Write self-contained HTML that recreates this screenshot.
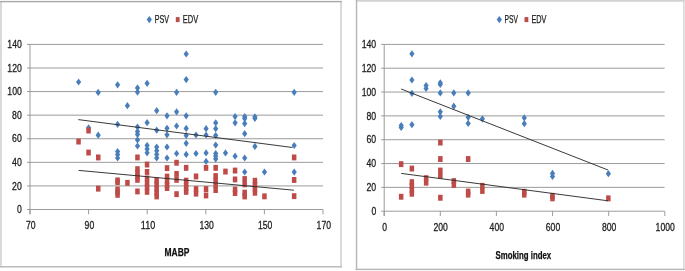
<!DOCTYPE html><html><head><meta charset="utf-8"><title>chart</title><style>html,body{margin:0;padding:0;background:#fff}svg text{font-family:"Liberation Sans",sans-serif}</style></head><body><svg width="685" height="271" viewBox="0 0 685 271" style="display:block;filter:blur(0.3px)">
<rect x="0" y="0" width="685" height="271" fill="#fff"/>
<g>
<rect x="0" y="1" width="1.9" height="266.5" fill="#d8d8d8"/>
<rect x="340.1" y="1" width="1.8" height="266.5" fill="#d6d6d6"/>
<rect x="0" y="0.9" width="341.9" height="1.4" fill="#a8a8a8"/>
<rect x="0" y="266.0" width="341.9" height="1.5" fill="#bcbcbc"/>
<rect x="683.1" y="0" width="1.5" height="270.1" fill="#d6d6d6"/>
<rect x="355.8" y="0" width="328.8" height="1.7" fill="#d2d2d2"/>
<rect x="355.8" y="0" width="1.5" height="270.1" fill="#b8b8b8"/>
<rect x="355.8" y="268.7" width="328.8" height="1.4" fill="#b4b4b4"/>
</g>
<g stroke="#969696" stroke-width="0.95" fill="none">
<line x1="27.0" y1="44.40" x2="323.0" y2="44.40"/>
<line x1="27.0" y1="67.99" x2="323.0" y2="67.99"/>
<line x1="27.0" y1="91.57" x2="323.0" y2="91.57"/>
<line x1="27.0" y1="115.16" x2="323.0" y2="115.16"/>
<line x1="27.0" y1="138.74" x2="323.0" y2="138.74"/>
<line x1="27.0" y1="162.33" x2="323.0" y2="162.33"/>
<line x1="27.0" y1="185.91" x2="323.0" y2="185.91"/>
<line x1="27.0" y1="209.50" x2="323.0" y2="209.50"/>
<line x1="30.0" y1="44.40" x2="30.0" y2="214.30"/>
<line x1="30.0" y1="209.50" x2="30.0" y2="214.30"/>
<line x1="88.6" y1="209.50" x2="88.6" y2="214.30"/>
<line x1="147.2" y1="209.50" x2="147.2" y2="214.30"/>
<line x1="205.8" y1="209.50" x2="205.8" y2="214.30"/>
<line x1="264.4" y1="209.50" x2="264.4" y2="214.30"/>
<line x1="323.0" y1="209.50" x2="323.0" y2="214.30"/>
</g>
<g fill="#1c1c1c" stroke="#1c1c1c" stroke-width="0.3">
<text x="21.8" y="48.0" font-size="11" font-weight="normal" text-anchor="end" textLength="14.5" lengthAdjust="spacingAndGlyphs">140</text>
<text x="21.8" y="71.6" font-size="11" font-weight="normal" text-anchor="end" textLength="14.5" lengthAdjust="spacingAndGlyphs">120</text>
<text x="21.8" y="95.2" font-size="11" font-weight="normal" text-anchor="end" textLength="14.5" lengthAdjust="spacingAndGlyphs">100</text>
<text x="21.8" y="118.8" font-size="11" font-weight="normal" text-anchor="end" textLength="9.7" lengthAdjust="spacingAndGlyphs">80</text>
<text x="21.8" y="142.3" font-size="11" font-weight="normal" text-anchor="end" textLength="9.7" lengthAdjust="spacingAndGlyphs">60</text>
<text x="21.8" y="165.9" font-size="11" font-weight="normal" text-anchor="end" textLength="9.7" lengthAdjust="spacingAndGlyphs">40</text>
<text x="21.8" y="189.5" font-size="11" font-weight="normal" text-anchor="end" textLength="9.7" lengthAdjust="spacingAndGlyphs">20</text>
<text x="21.8" y="213.1" font-size="11" font-weight="normal" text-anchor="end" textLength="4.8" lengthAdjust="spacingAndGlyphs">0</text>
<text x="30.8" y="229.3" font-size="11" font-weight="normal" text-anchor="middle" textLength="9.6" lengthAdjust="spacingAndGlyphs">70</text>
<text x="89.4" y="229.3" font-size="11" font-weight="normal" text-anchor="middle" textLength="9.6" lengthAdjust="spacingAndGlyphs">90</text>
<text x="148.0" y="229.3" font-size="11" font-weight="normal" text-anchor="middle" textLength="14.4" lengthAdjust="spacingAndGlyphs">110</text>
<text x="206.6" y="229.3" font-size="11" font-weight="normal" text-anchor="middle" textLength="14.4" lengthAdjust="spacingAndGlyphs">130</text>
<text x="265.2" y="229.3" font-size="11" font-weight="normal" text-anchor="middle" textLength="14.4" lengthAdjust="spacingAndGlyphs">150</text>
<text x="323.8" y="229.3" font-size="11" font-weight="normal" text-anchor="middle" textLength="14.4" lengthAdjust="spacingAndGlyphs">170</text>
</g>
<g fill="#4a7ebb">
<path d="M78.6 78.4L81.2 82.0L78.6 85.6L76.0 82.0Z"/>
<path d="M88.6 124.2L91.2 127.8L88.6 131.4L86.0 127.8Z"/>
<path d="M98.2 88.8L100.8 92.4L98.2 96.0L95.6 92.4Z"/>
<path d="M98.2 131.6L100.8 135.2L98.2 138.8L95.6 135.2Z"/>
<path d="M117.6 81.2L120.2 84.8L117.6 88.4L115.0 84.8Z"/>
<path d="M117.6 120.7L120.2 124.3L117.6 127.9L115.0 124.3Z"/>
<path d="M117.6 148.0L120.2 151.6L117.6 155.2L115.0 151.6Z"/>
<path d="M117.6 151.0L120.2 154.6L117.6 158.2L115.0 154.6Z"/>
<path d="M117.6 154.4L120.2 158.0L117.6 161.6L115.0 158.0Z"/>
<path d="M127.4 102.1L130.0 105.7L127.4 109.3L124.8 105.7Z"/>
<path d="M137.5 84.3L140.1 87.9L137.5 91.5L134.9 87.9Z"/>
<path d="M137.5 88.5L140.1 92.1L137.5 95.7L134.9 92.1Z"/>
<path d="M137.5 123.4L140.1 127.0L137.5 130.6L134.9 127.0Z"/>
<path d="M137.5 128.0L140.1 131.6L137.5 135.2L134.9 131.6Z"/>
<path d="M137.5 130.8L140.1 134.4L137.5 138.0L134.9 134.4Z"/>
<path d="M137.5 136.3L140.1 139.9L137.5 143.5L134.9 139.9Z"/>
<path d="M137.5 142.4L140.1 146.0L137.5 149.6L134.9 146.0Z"/>
<path d="M147.1 79.7L149.7 83.3L147.1 86.9L144.5 83.3Z"/>
<path d="M147.1 119.1L149.7 122.7L147.1 126.3L144.5 122.7Z"/>
<path d="M147.1 141.8L149.7 145.4L147.1 149.0L144.5 145.4Z"/>
<path d="M147.1 145.5L149.7 149.1L147.1 152.7L144.5 149.1Z"/>
<path d="M147.1 149.2L149.7 152.8L147.1 156.4L144.5 152.8Z"/>
<path d="M156.7 107.1L159.3 110.7L156.7 114.3L154.1 110.7Z"/>
<path d="M156.7 126.6L159.3 130.2L156.7 133.8L154.1 130.2Z"/>
<path d="M156.7 143.4L159.3 147.0L156.7 150.6L154.1 147.0Z"/>
<path d="M156.7 147.1L159.3 150.7L156.7 154.3L154.1 150.7Z"/>
<path d="M156.7 150.8L159.3 154.4L156.7 158.0L154.1 154.4Z"/>
<path d="M156.7 154.4L159.3 158.0L156.7 161.6L154.1 158.0Z"/>
<path d="M167.0 112.2L169.6 115.8L167.0 119.4L164.4 115.8Z"/>
<path d="M167.0 124.7L169.6 128.3L167.0 131.9L164.4 128.3Z"/>
<path d="M167.0 131.2L169.6 134.8L167.0 138.4L164.4 134.8Z"/>
<path d="M167.0 143.4L169.6 147.0L167.0 150.6L164.4 147.0Z"/>
<path d="M167.0 154.4L169.6 158.0L167.0 161.6L164.4 158.0Z"/>
<path d="M176.6 88.7L179.2 92.3L176.6 95.9L174.0 92.3Z"/>
<path d="M176.6 108.2L179.2 111.8L176.6 115.4L174.0 111.8Z"/>
<path d="M176.6 122.4L179.2 126.0L176.6 129.6L174.0 126.0Z"/>
<path d="M176.6 149.9L179.2 153.5L176.6 157.1L174.0 153.5Z"/>
<path d="M186.2 50.4L188.8 54.0L186.2 57.6L183.6 54.0Z"/>
<path d="M186.2 76.0L188.8 79.6L186.2 83.2L183.6 79.6Z"/>
<path d="M186.2 112.2L188.8 115.8L186.2 119.4L183.6 115.8Z"/>
<path d="M186.2 124.8L188.8 128.4L186.2 132.0L183.6 128.4Z"/>
<path d="M186.2 131.9L188.8 135.5L186.2 139.1L183.6 135.5Z"/>
<path d="M186.2 139.7L188.8 143.3L186.2 146.9L183.6 143.3Z"/>
<path d="M186.2 150.8L188.8 154.4L186.2 158.0L183.6 154.4Z"/>
<path d="M196.0 131.4L198.6 135.0L196.0 138.6L193.4 135.0Z"/>
<path d="M196.0 149.9L198.6 153.5L196.0 157.1L193.4 153.5Z"/>
<path d="M206.1 125.1L208.7 128.7L206.1 132.3L203.5 128.7Z"/>
<path d="M206.1 131.4L208.7 135.0L206.1 138.6L203.5 135.0Z"/>
<path d="M206.1 149.3L208.7 152.9L206.1 156.5L203.5 152.9Z"/>
<path d="M206.1 157.8L208.7 161.4L206.1 165.0L203.5 161.4Z"/>
<path d="M215.7 88.7L218.3 92.3L215.7 95.9L213.1 92.3Z"/>
<path d="M215.7 119.2L218.3 122.8L215.7 126.4L213.1 122.8Z"/>
<path d="M215.7 125.1L218.3 128.7L215.7 132.3L213.1 128.7Z"/>
<path d="M215.7 131.9L218.3 135.5L215.7 139.1L213.1 135.5Z"/>
<path d="M215.7 141.5L218.3 145.1L215.7 148.7L213.1 145.1Z"/>
<path d="M215.7 149.9L218.3 153.5L215.7 157.1L213.1 153.5Z"/>
<path d="M215.7 152.6L218.3 156.2L215.7 159.8L213.1 156.2Z"/>
<path d="M215.7 155.4L218.3 159.0L215.7 162.6L213.1 159.0Z"/>
<path d="M225.5 149.3L228.1 152.9L225.5 156.5L222.9 152.9Z"/>
<path d="M235.1 113.0L237.7 116.6L235.1 120.2L232.5 116.6Z"/>
<path d="M235.1 119.2L237.7 122.8L235.1 126.4L232.5 122.8Z"/>
<path d="M235.1 152.6L237.7 156.2L235.1 159.8L232.5 156.2Z"/>
<path d="M244.7 113.0L247.3 116.6L244.7 120.2L242.1 116.6Z"/>
<path d="M244.7 115.0L247.3 118.6L244.7 122.2L242.1 118.6Z"/>
<path d="M244.7 120.0L247.3 123.6L244.7 127.2L242.1 123.6Z"/>
<path d="M244.7 130.1L247.3 133.7L244.7 137.3L242.1 133.7Z"/>
<path d="M244.7 154.4L247.3 158.0L244.7 161.6L242.1 158.0Z"/>
<path d="M244.7 168.4L247.3 172.0L244.7 175.6L242.1 172.0Z"/>
<path d="M254.9 113.2L257.5 116.8L254.9 120.4L252.3 116.8Z"/>
<path d="M254.9 114.8L257.5 118.4L254.9 122.0L252.3 118.4Z"/>
<path d="M254.9 142.8L257.5 146.4L254.9 150.0L252.3 146.4Z"/>
<path d="M264.5 168.4L267.1 172.0L264.5 175.6L261.9 172.0Z"/>
<path d="M294.2 88.7L296.8 92.3L294.2 95.9L291.6 92.3Z"/>
<path d="M294.2 141.9L296.8 145.5L294.2 149.1L291.6 145.5Z"/>
<path d="M294.2 168.5L296.8 172.1L294.2 175.7L291.6 172.1Z"/>
</g>
<g fill="#be4b48">
<rect x="76.3" y="138.6" width="4.5" height="5.9"/>
<rect x="86.3" y="127.6" width="4.5" height="5.9"/>
<rect x="86.3" y="149.6" width="4.5" height="5.9"/>
<rect x="96.0" y="154.5" width="4.5" height="5.9"/>
<rect x="96.0" y="185.7" width="4.5" height="5.9"/>
<rect x="115.3" y="177.4" width="4.5" height="5.9"/>
<rect x="115.3" y="179.2" width="4.5" height="5.9"/>
<rect x="115.3" y="186.5" width="4.5" height="5.9"/>
<rect x="115.3" y="189.2" width="4.5" height="5.9"/>
<rect x="115.3" y="191.9" width="4.5" height="5.9"/>
<rect x="125.2" y="179.9" width="4.5" height="5.9"/>
<rect x="135.2" y="154.5" width="4.5" height="5.9"/>
<rect x="135.2" y="166.2" width="4.5" height="5.9"/>
<rect x="135.2" y="170.1" width="4.5" height="5.9"/>
<rect x="135.2" y="173.6" width="4.5" height="5.9"/>
<rect x="135.2" y="176.9" width="4.5" height="5.9"/>
<rect x="135.2" y="188.5" width="4.5" height="5.9"/>
<rect x="144.8" y="161.6" width="4.5" height="5.9"/>
<rect x="144.8" y="169.0" width="4.5" height="5.9"/>
<rect x="144.8" y="175.5" width="4.5" height="5.9"/>
<rect x="144.8" y="180.6" width="4.5" height="5.9"/>
<rect x="144.8" y="184.6" width="4.5" height="5.9"/>
<rect x="144.8" y="188.9" width="4.5" height="5.9"/>
<rect x="154.4" y="177.4" width="4.5" height="5.9"/>
<rect x="154.4" y="181.6" width="4.5" height="5.9"/>
<rect x="154.4" y="185.6" width="4.5" height="5.9"/>
<rect x="154.4" y="189.6" width="4.5" height="5.9"/>
<rect x="154.4" y="193.5" width="4.5" height="5.9"/>
<rect x="164.8" y="165.2" width="4.5" height="5.9"/>
<rect x="164.8" y="173.6" width="4.5" height="5.9"/>
<rect x="164.8" y="178.1" width="4.5" height="5.9"/>
<rect x="164.8" y="182.1" width="4.5" height="5.9"/>
<rect x="164.8" y="185.1" width="4.5" height="5.9"/>
<rect x="174.3" y="159.8" width="4.5" height="5.9"/>
<rect x="174.3" y="171.0" width="4.5" height="5.9"/>
<rect x="174.3" y="176.9" width="4.5" height="5.9"/>
<rect x="174.3" y="191.2" width="4.5" height="5.9"/>
<rect x="183.9" y="164.9" width="4.5" height="5.9"/>
<rect x="183.9" y="177.7" width="4.5" height="5.9"/>
<rect x="183.9" y="181.6" width="4.5" height="5.9"/>
<rect x="183.9" y="185.1" width="4.5" height="5.9"/>
<rect x="183.9" y="188.9" width="4.5" height="5.9"/>
<rect x="193.8" y="173.5" width="4.5" height="5.9"/>
<rect x="193.8" y="186.1" width="4.5" height="5.9"/>
<rect x="193.8" y="190.7" width="4.5" height="5.9"/>
<rect x="203.8" y="164.9" width="4.5" height="5.9"/>
<rect x="203.8" y="186.1" width="4.5" height="5.9"/>
<rect x="203.8" y="192.5" width="4.5" height="5.9"/>
<rect x="213.4" y="164.9" width="4.5" height="5.9"/>
<rect x="213.4" y="173.1" width="4.5" height="5.9"/>
<rect x="213.4" y="177.6" width="4.5" height="5.9"/>
<rect x="213.4" y="182.1" width="4.5" height="5.9"/>
<rect x="213.4" y="187.1" width="4.5" height="5.9"/>
<rect x="223.2" y="168.6" width="4.5" height="5.9"/>
<rect x="232.8" y="167.6" width="4.5" height="5.9"/>
<rect x="232.8" y="176.5" width="4.5" height="5.9"/>
<rect x="232.8" y="186.6" width="4.5" height="5.9"/>
<rect x="232.8" y="190.1" width="4.5" height="5.9"/>
<rect x="242.4" y="176.1" width="4.5" height="5.9"/>
<rect x="242.4" y="181.4" width="4.5" height="5.9"/>
<rect x="242.4" y="189.7" width="4.5" height="5.9"/>
<rect x="242.4" y="193.5" width="4.5" height="5.9"/>
<rect x="252.7" y="177.8" width="4.5" height="5.9"/>
<rect x="252.7" y="181.8" width="4.5" height="5.9"/>
<rect x="252.7" y="185.8" width="4.5" height="5.9"/>
<rect x="252.7" y="189.8" width="4.5" height="5.9"/>
<rect x="262.2" y="193.4" width="4.5" height="5.9"/>
<rect x="291.9" y="154.5" width="4.5" height="5.9"/>
<rect x="291.9" y="177.0" width="4.5" height="5.9"/>
<rect x="291.9" y="193.2" width="4.5" height="5.9"/>
</g>
<g stroke="#2e2e2e" stroke-width="0.95" fill="none">
<line x1="78.3" y1="119.6" x2="292.5" y2="147.5"/>
<line x1="78.6" y1="170.4" x2="293.9" y2="190.2"/>
</g>
<g stroke="#969696" stroke-width="0.95" fill="none">
<line x1="381.2" y1="44.40" x2="664.6" y2="44.40"/>
<line x1="381.2" y1="68.23" x2="664.6" y2="68.23"/>
<line x1="381.2" y1="92.06" x2="664.6" y2="92.06"/>
<line x1="381.2" y1="115.89" x2="664.6" y2="115.89"/>
<line x1="381.2" y1="139.71" x2="664.6" y2="139.71"/>
<line x1="381.2" y1="163.54" x2="664.6" y2="163.54"/>
<line x1="381.2" y1="187.37" x2="664.6" y2="187.37"/>
<line x1="381.2" y1="211.20" x2="664.6" y2="211.20"/>
<line x1="384.2" y1="44.40" x2="384.2" y2="216.00"/>
<line x1="384.2" y1="211.20" x2="384.2" y2="216.00"/>
<line x1="440.3" y1="211.20" x2="440.3" y2="216.00"/>
<line x1="496.4" y1="211.20" x2="496.4" y2="216.00"/>
<line x1="552.6" y1="211.20" x2="552.6" y2="216.00"/>
<line x1="608.7" y1="211.20" x2="608.7" y2="216.00"/>
<line x1="664.8" y1="211.20" x2="664.8" y2="216.00"/>
</g>
<g fill="#1c1c1c" stroke="#1c1c1c" stroke-width="0.3">
<text x="376.2" y="48.0" font-size="11" font-weight="normal" text-anchor="end" textLength="14.5" lengthAdjust="spacingAndGlyphs">140</text>
<text x="376.2" y="71.8" font-size="11" font-weight="normal" text-anchor="end" textLength="14.5" lengthAdjust="spacingAndGlyphs">120</text>
<text x="376.2" y="95.7" font-size="11" font-weight="normal" text-anchor="end" textLength="14.5" lengthAdjust="spacingAndGlyphs">100</text>
<text x="376.2" y="119.5" font-size="11" font-weight="normal" text-anchor="end" textLength="9.7" lengthAdjust="spacingAndGlyphs">80</text>
<text x="376.2" y="143.3" font-size="11" font-weight="normal" text-anchor="end" textLength="9.7" lengthAdjust="spacingAndGlyphs">60</text>
<text x="376.2" y="167.1" font-size="11" font-weight="normal" text-anchor="end" textLength="9.7" lengthAdjust="spacingAndGlyphs">40</text>
<text x="376.2" y="191.0" font-size="11" font-weight="normal" text-anchor="end" textLength="9.7" lengthAdjust="spacingAndGlyphs">20</text>
<text x="376.2" y="214.8" font-size="11" font-weight="normal" text-anchor="end" textLength="4.8" lengthAdjust="spacingAndGlyphs">0</text>
<text x="384.6" y="231.0" font-size="11" font-weight="normal" text-anchor="middle" textLength="4.8" lengthAdjust="spacingAndGlyphs">0</text>
<text x="440.7" y="231.0" font-size="11" font-weight="normal" text-anchor="middle" textLength="14.4" lengthAdjust="spacingAndGlyphs">200</text>
<text x="496.8" y="231.0" font-size="11" font-weight="normal" text-anchor="middle" textLength="14.4" lengthAdjust="spacingAndGlyphs">400</text>
<text x="553.0" y="231.0" font-size="11" font-weight="normal" text-anchor="middle" textLength="14.4" lengthAdjust="spacingAndGlyphs">600</text>
<text x="609.1" y="231.0" font-size="11" font-weight="normal" text-anchor="middle" textLength="14.4" lengthAdjust="spacingAndGlyphs">800</text>
<text x="665.2" y="231.0" font-size="11" font-weight="normal" text-anchor="middle" textLength="19.2" lengthAdjust="spacingAndGlyphs">1000</text>
</g>
<g fill="#4a7ebb">
<path d="M401.2 121.9L403.8 125.5L401.2 129.1L398.6 125.5Z"/>
<path d="M401.2 123.9L403.8 127.5L401.2 131.1L398.6 127.5Z"/>
<path d="M411.9 50.2L414.5 53.8L411.9 57.4L409.3 53.8Z"/>
<path d="M411.9 76.4L414.5 80.0L411.9 83.6L409.3 80.0Z"/>
<path d="M411.9 89.7L414.5 93.3L411.9 96.9L409.3 93.3Z"/>
<path d="M411.9 121.1L414.5 124.7L411.9 128.3L409.3 124.7Z"/>
<path d="M426.1 81.9L428.7 85.5L426.1 89.1L423.5 85.5Z"/>
<path d="M426.1 84.9L428.7 88.5L426.1 92.1L423.5 88.5Z"/>
<path d="M440.3 79.2L442.9 82.8L440.3 86.4L437.7 82.8Z"/>
<path d="M440.3 80.9L442.9 84.5L440.3 88.1L437.7 84.5Z"/>
<path d="M440.3 89.3L442.9 92.9L440.3 96.5L437.7 92.9Z"/>
<path d="M440.3 108.2L442.9 111.8L440.3 115.4L437.7 111.8Z"/>
<path d="M440.3 112.8L442.9 116.4L440.3 120.0L437.7 116.4Z"/>
<path d="M453.8 89.3L456.4 92.9L453.8 96.5L451.2 92.9Z"/>
<path d="M453.8 102.6L456.4 106.2L453.8 109.8L451.2 106.2Z"/>
<path d="M468.2 89.3L470.8 92.9L468.2 96.5L465.6 92.9Z"/>
<path d="M468.2 113.7L470.8 117.3L468.2 120.9L465.6 117.3Z"/>
<path d="M468.2 119.8L470.8 123.4L468.2 127.0L465.6 123.4Z"/>
<path d="M482.4 115.2L485.0 118.8L482.4 122.4L479.8 118.8Z"/>
<path d="M524.3 114.2L526.9 117.8L524.3 121.4L521.7 117.8Z"/>
<path d="M524.3 120.1L526.9 123.7L524.3 127.3L521.7 123.7Z"/>
<path d="M552.5 169.8L555.1 173.4L552.5 177.0L549.9 173.4Z"/>
<path d="M552.5 172.9L555.1 176.5L552.5 180.1L549.9 176.5Z"/>
<path d="M608.4 170.1L611.0 173.7L608.4 177.3L605.8 173.7Z"/>
</g>
<g fill="#be4b48">
<rect x="398.9" y="161.2" width="4.5" height="5.9"/>
<rect x="398.9" y="193.8" width="4.5" height="5.9"/>
<rect x="409.6" y="165.6" width="4.5" height="5.9"/>
<rect x="409.6" y="179.2" width="4.5" height="5.9"/>
<rect x="409.6" y="183.1" width="4.5" height="5.9"/>
<rect x="409.6" y="187.1" width="4.5" height="5.9"/>
<rect x="409.6" y="190.8" width="4.5" height="5.9"/>
<rect x="423.9" y="175.2" width="4.5" height="5.9"/>
<rect x="423.9" y="179.7" width="4.5" height="5.9"/>
<rect x="438.1" y="139.6" width="4.5" height="5.9"/>
<rect x="438.1" y="156.1" width="4.5" height="5.9"/>
<rect x="438.1" y="167.6" width="4.5" height="5.9"/>
<rect x="438.1" y="172.7" width="4.5" height="5.9"/>
<rect x="438.1" y="194.8" width="4.5" height="5.9"/>
<rect x="451.6" y="178.1" width="4.5" height="5.9"/>
<rect x="451.6" y="181.9" width="4.5" height="5.9"/>
<rect x="465.9" y="156.1" width="4.5" height="5.9"/>
<rect x="465.9" y="188.6" width="4.5" height="5.9"/>
<rect x="465.9" y="191.7" width="4.5" height="5.9"/>
<rect x="480.1" y="182.9" width="4.5" height="5.9"/>
<rect x="480.1" y="188.0" width="4.5" height="5.9"/>
<rect x="522.0" y="188.8" width="4.5" height="5.9"/>
<rect x="522.0" y="191.7" width="4.5" height="5.9"/>
<rect x="550.2" y="192.9" width="4.5" height="5.9"/>
<rect x="550.2" y="195.4" width="4.5" height="5.9"/>
<rect x="606.1" y="195.4" width="4.5" height="5.9"/>
</g>
<g stroke="#2e2e2e" stroke-width="0.95" fill="none">
<line x1="401.2" y1="89" x2="608" y2="170"/>
<line x1="401.2" y1="173.4" x2="608" y2="200.8"/>
</g>
<g fill="#4a7ebb"><path d="M149.3 16.0L151.9 19.6L149.3 23.2L146.7 19.6Z"/></g>
<g fill="#be4b48"><rect x="175.8" y="17.1" width="3.8" height="5.0"/></g>
<g fill="#1c1c1c" stroke="#1c1c1c" stroke-width="0.25"><text x="154.8" y="23.2" font-size="10.8" font-weight="normal" text-anchor="start" textLength="14.3" lengthAdjust="spacingAndGlyphs">PSV</text><text x="182.8" y="23.2" font-size="10.8" font-weight="normal" text-anchor="start" textLength="15.4" lengthAdjust="spacingAndGlyphs">EDV</text></g>
<g fill="#4a7ebb"><path d="M499.3 16.0L501.9 19.6L499.3 23.2L496.7 19.6Z"/></g>
<g fill="#be4b48"><rect x="524.5" y="17.1" width="3.8" height="5.0"/></g>
<g fill="#1c1c1c" stroke="#1c1c1c" stroke-width="0.25"><text x="504.5" y="23.2" font-size="10.8" font-weight="normal" text-anchor="start" textLength="13.4" lengthAdjust="spacingAndGlyphs">PSV</text><text x="531.4" y="23.2" font-size="10.8" font-weight="normal" text-anchor="start" textLength="15.0" lengthAdjust="spacingAndGlyphs">EDV</text></g>
<g fill="#111" stroke="#111" stroke-width="0.25"><text x="164.5" y="255.6" font-size="10.8" font-weight="bold" text-anchor="start" textLength="24.9" lengthAdjust="spacingAndGlyphs">MABP</text><text x="495.5" y="258.9" font-size="10.8" font-weight="bold" text-anchor="start" textLength="55.7" lengthAdjust="spacingAndGlyphs">Smoking index</text></g>
</svg></body></html>
